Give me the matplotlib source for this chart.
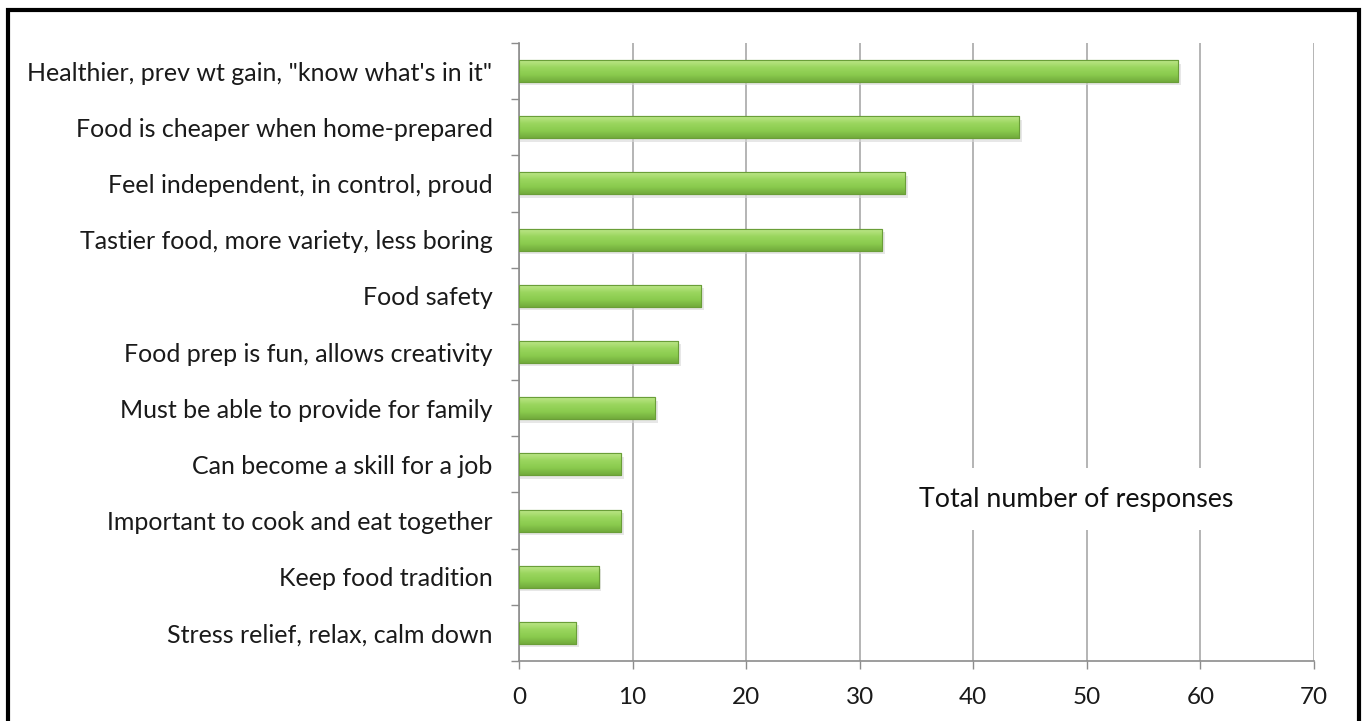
import matplotlib
matplotlib.use("Agg")
import matplotlib.pyplot as plt
import numpy as np
from matplotlib.patches import Rectangle
from matplotlib.colors import LinearSegmentedColormap

categories = [
    'Healthier, prev wt gain, "know what\'s in it"',
    'Food is cheaper when home-prepared',
    'Feel independent, in control, proud',
    'Tastier food, more variety, less boring',
    'Food safety',
    'Food prep is fun, allows creativity',
    'Must be able to provide for family',
    'Can become a skill for a job',
    'Important to cook and eat together',
    'Keep food tradition',
    'Stress relief, relax, calm down',
]
values = [58, 44, 34, 32, 16, 14, 12, 9, 9, 7, 5]
xticks = [0, 10, 20, 30, 40, 50, 60, 70]
annotation = "Total number of responses"

plt.rcParams['font.family'] = ['Lato', 'DejaVu Sans']

fig = plt.figure(figsize=(13.62, 7.21), dpi=100)
ax = fig.add_axes([519/1362, 1-661/721, (1314-519)/1362, (661-43)/721])

n = len(categories)
ypos = np.arange(n)
bars = ax.barh(ypos, values, height=0.39, color='#8fcc52', edgecolor='#6a9e38',
               linewidth=0.8, zorder=3)

cmap = LinearSegmentedColormap.from_list('g', ['#bde688', '#9ad65e', '#8acb4e', '#72ab3c'])
grad = np.linspace(0, 1, 64).reshape(-1, 1)
for b in bars:
    x0, y0, w, h = b.get_x(), b.get_y(), b.get_width(), b.get_height()
    ax.add_patch(Rectangle((x0, y0 + 0.06), w + 0.25, h, facecolor='#d8d8d8',
                           edgecolor='none', zorder=2, alpha=0.6))
    im = ax.imshow(grad, extent=(x0, x0 + w, y0 + h, y0), aspect='auto',
                   cmap=cmap, zorder=3.5, interpolation='bilinear')
    im.set_clip_path(b)
    ax.add_patch(Rectangle((x0, y0), w, h, facecolor='none', edgecolor='#6a9e38',
                           linewidth=0.8, zorder=4))

ax.set_xlim(0, 70)
ax.set_ylim(n - 0.5, -0.5)
ax.set_xticks(xticks)
ax.set_yticks(ypos)
ax.set_yticklabels(categories)
ax.set_yticks(np.arange(-0.5, n, 1), minor=True)
ax.tick_params(axis='y', which='major', length=0, pad=19, labelsize=18, labelcolor='#1a1a1a')
ax.tick_params(axis='y', which='minor', length=6, color='#8c8c8c', width=1)
ax.tick_params(axis='x', length=6, color='#8c8c8c', width=1, labelsize=17.5,
               labelcolor='#1a1a1a', pad=13)

ax.grid(axis='x', color='#a8a8a8', linewidth=1.2, zorder=0)
ax.set_axisbelow(True)
for s in ['top', 'right']:
    ax.spines[s].set_visible(False)
for s in ['left', 'bottom']:
    ax.spines[s].set_color('#8c8c8c')
    ax.spines[s].set_linewidth(1.2)

ax.text(49.1, 0.262, annotation, transform=ax.get_xaxis_transform(), ha='center', va='center',
        fontsize=19.3, color='#111111', zorder=5,
        bbox=dict(facecolor='white', edgecolor='none', boxstyle='square,pad=0.7'))

fig.patches.append(Rectangle((7.5/1362, -0.1), (1359 - 7.5)/1362, 1.1 - 9.5/721,
                             transform=fig.transFigure, fill=False, edgecolor='black',
                             linewidth=3, figure=fig))

fig.savefig('out.png', dpi=100)
